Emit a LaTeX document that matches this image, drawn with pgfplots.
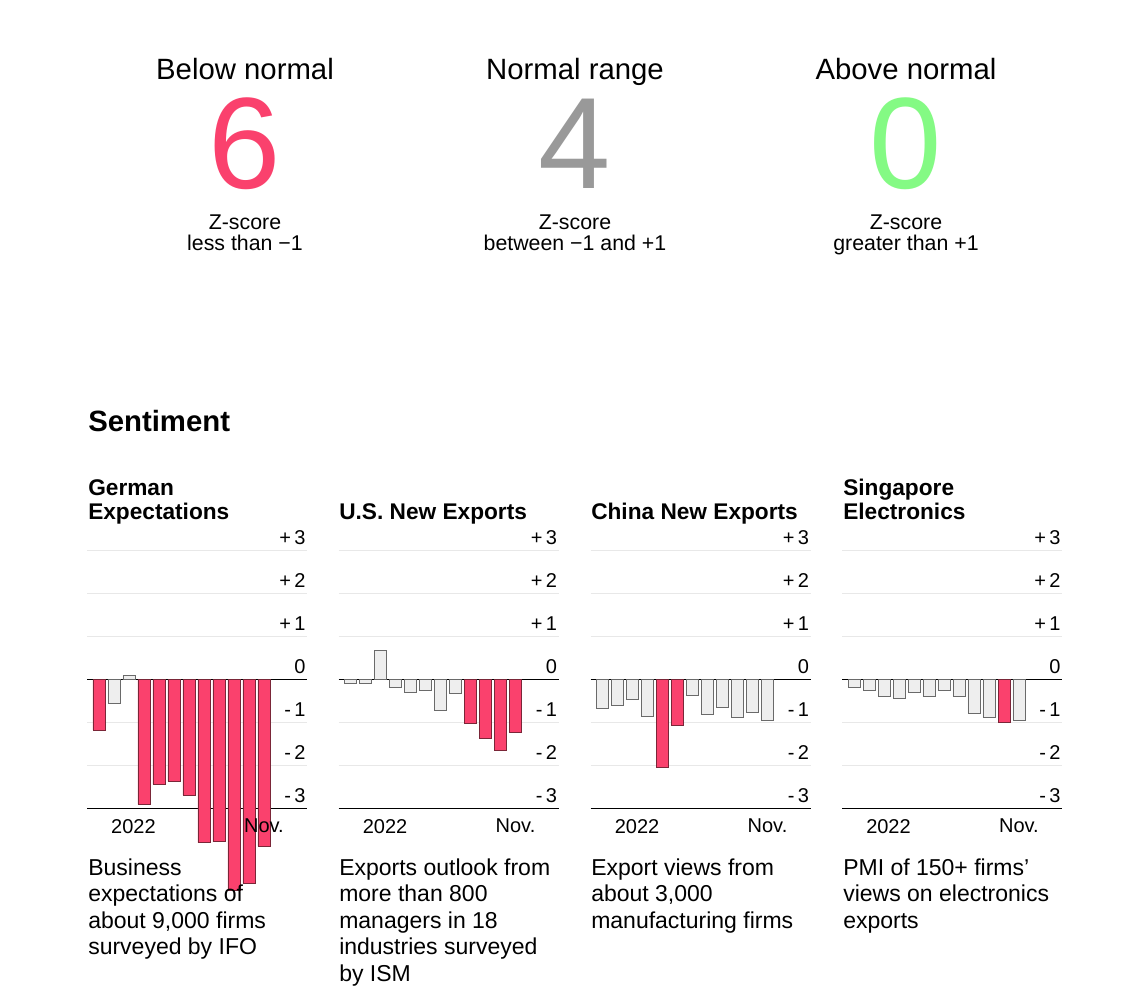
\documentclass[border=0pt]{standalone}
\usepackage{fontspec}
\setmainfont{Liberation Sans}
\usepackage{pgfplots}
\pgfplotsset{compat=1.18}

\definecolor{zred}{HTML}{FA416D}
\definecolor{zredline}{HTML}{7A2638}
\definecolor{zgrayfill}{HTML}{EEEEEE}
\definecolor{zgrayline}{HTML}{6A6A6A}
\definecolor{zgrid}{HTML}{E8E8E8}
\definecolor{zbig}{HTML}{999999}
\definecolor{zgreen}{HTML}{84FA84}

\newcommand\ticks{\fontsize{15}{17}\selectfont}
\newcommand\ptitle{\fontsize{17}{18}\selectfont\bfseries}
\newcommand\desc{\fontsize{17.25}{19.875}\selectfont}
% "Nov." is set after the bars so that it lies on top of them
\newcommand\novlabel{\node[anchor=base, inner sep=0pt, font=\ticks, yshift=-17.5pt] at (axis cs:11,-3) {Nov.};}

\pgfplotsset{
  panel/.style={
    scale only axis, width=165pt, height=193.5pt,
    anchor=south west,
    xmin=-0.8, xmax=13.87, ymin=-3, ymax=3,
    clip=false,
    axis line style={draw=none},
    tick style={draw=none},
    ytick={-3,-2,-1,0,1,2,3},
    yticklabels={-\,3,-\,2,-\,1,0,+\,1,+\,2,+\,3},
    yticklabel pos=right,
    yticklabel style={anchor=base east, inner sep=0pt, xshift=-1pt, yshift=5pt, font=\ticks},
    ymajorgrids,
    major grid style={draw=zgrid, line width=0.75pt},
    extra y ticks={-3,0},
    extra y tick labels={},
    extra y tick style={major grid style={draw=black, line width=1.1pt}},
    xtick={2.3},
    xticklabels={2022},
    xticklabel style={anchor=base, inner sep=0pt, yshift=-14.5pt, font=\ticks},
    ybar, bar width=0.8, bar shift=0pt,
  },
  redbar/.style={fill=zred, draw=zredline, line width=0.5pt},
  graybar/.style={fill=zgrayfill, draw=zgrayline, line width=0.7pt},
}

\begin{document}
\begin{tikzpicture}
\useasboundingbox (0,0) rectangle (843pt,-750pt);
\fill[white] (0,0) rectangle (843pt,-750pt);

% headline counts
\foreach \cx/\head/\num/\col/\la/\lb in {
  183.75/Below normal/6/zred/Z-score/less than −1,
  431.25/Normal range/4/zbig/Z-score/between −1 and +1,
  679.5/Above normal/0/zgreen/Z-score/greater than +1}{
  \node[anchor=base, inner sep=0pt, font=\fontsize{22}{24}\selectfont] at (\cx pt,-59.5pt) {\head};
  \node[anchor=base, inner sep=0pt, text depth=0pt, text=\col, font=\fontsize{97.5}{100}\selectfont] at (\cx pt,-141.2pt) {\num};
  \node[anchor=base, inner sep=0pt, font=\fontsize{16}{17}\selectfont] at (\cx pt,-171.75pt) {\la};
  \node[anchor=base, inner sep=0pt, font=\fontsize{16}{17}\selectfont] at (\cx pt,-187.5pt) {\lb};
}

\node[anchor=base west, inner sep=0pt, font=\fontsize{22}{24}\selectfont\bfseries] at (66pt,-323.8pt) {Sentiment};

% panel titles
\node[anchor=base west, inner sep=0pt, font=\ptitle] at (66pt,-371.25pt) {German};
\node[anchor=base west, inner sep=0pt, font=\ptitle] at (66pt,-389.25pt) {Expectations};
\node[anchor=base west, inner sep=0pt, font=\ptitle] at (254.25pt,-389.25pt) {U.S. New Exports};
\node[anchor=base west, inner sep=0pt, font=\ptitle] at (443.25pt,-389.25pt) {China New Exports};
\node[anchor=base west, inner sep=0pt, font=\ptitle] at (632.25pt,-371.25pt) {Singapore};
\node[anchor=base west, inner sep=0pt, font=\ptitle] at (632.25pt,-389.25pt) {Electronics};

% German expectations
\begin{axis}[panel, at={(65.25pt,-606.5pt)}]
\addplot[redbar] coordinates {(0,-1.17) (3,-2.90) (4,-2.43) (5,-2.36) (6,-2.68) (7,-3.79) (8,-3.77) (9,-4.89) (10,-4.73) (11,-3.87)};
\addplot[graybar] coordinates {(1,-0.55) (2,0.09)};
\novlabel
\end{axis}

% U.S. new exports
\begin{axis}[panel, at={(253.9pt,-606.5pt)}]
\addplot[graybar] coordinates {(0,-0.09) (1,-0.08) (2,0.68) (3,-0.18) (4,-0.29) (5,-0.24) (6,-0.72) (7,-0.31)};
\addplot[redbar] coordinates {(8,-1.01) (9,-1.36) (10,-1.64) (11,-1.22)};
\novlabel
\end{axis}

% China new exports
\begin{axis}[panel, at={(442.9pt,-606.5pt)}]
\addplot[graybar] coordinates {(0,-0.66) (1,-0.59) (2,-0.47) (3,-0.85) (6,-0.36) (7,-0.80) (8,-0.65) (9,-0.89) (10,-0.76) (11,-0.96)};
\addplot[redbar] coordinates {(4,-2.04) (5,-1.07)};
\novlabel
\end{axis}

% Singapore electronics
\begin{axis}[panel, at={(631.5pt,-606.5pt)}]
\addplot[graybar] coordinates {(0,-0.17) (1,-0.26) (2,-0.39) (3,-0.44) (4,-0.30) (5,-0.39) (6,-0.26) (7,-0.39) (8,-0.78) (9,-0.87) (11,-0.96)};
\addplot[redbar] coordinates {(10,-1.00)};
\novlabel
\end{axis}

% descriptions
\node[anchor=base west, inner sep=0pt, font=\desc] at (66pt,-656.25pt)
  {\begin{tabular}[t]{@{}l@{}}Business\\expectations of\\about 9,000 firms\\surveyed by IFO\end{tabular}};
\node[anchor=base west, inner sep=0pt, font=\desc] at (254.25pt,-656.25pt)
  {\begin{tabular}[t]{@{}l@{}}Exports outlook from\\more than 800\\managers in 18\\industries surveyed\\by ISM\end{tabular}};
\node[anchor=base west, inner sep=0pt, font=\desc] at (443.25pt,-656.25pt)
  {\begin{tabular}[t]{@{}l@{}}Export views from\\about 3,000\\manufacturing firms\end{tabular}};
\node[anchor=base west, inner sep=0pt, font=\desc] at (632.25pt,-656.25pt)
  {\begin{tabular}[t]{@{}l@{}}PMI of 150+ firms’\\views on electronics\\exports\end{tabular}};
\end{tikzpicture}
\end{document}
